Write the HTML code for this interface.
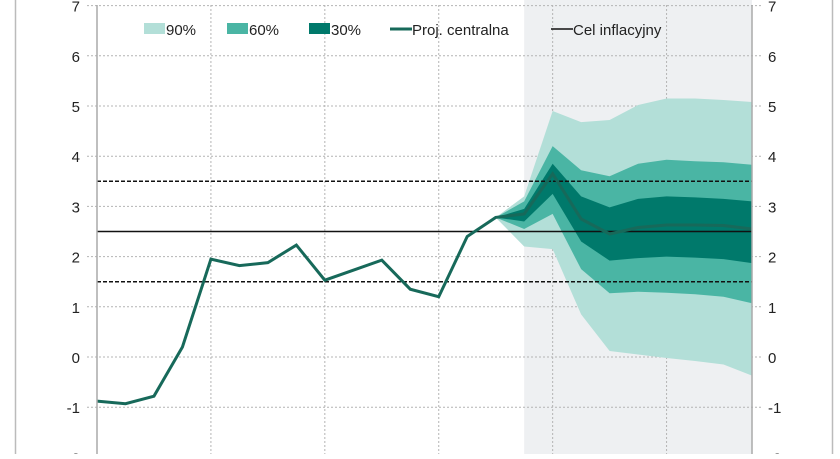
<!DOCTYPE html>
<html><head><meta charset="utf-8"><style>
body{margin:0;background:#fff;width:840px;height:454px;overflow:hidden}
svg{font-family:"Liberation Sans",sans-serif}
</style></head><body>
<svg id="c" width="840" height="454">
<line x1="15.5" y1="0" x2="15.5" y2="454" stroke="#bbb" stroke-width="1.5"/>
<line x1="832.5" y1="0" x2="832.5" y2="454" stroke="#bbb" stroke-width="1.5"/>
<g id="g"></g>
</svg>
<script>
const yTicks=[-2,-1,0,1,2,3,4,5,6,7];
const central=[-0.88,-0.93,-0.78,0.2,1.95,1.82,1.88,2.23,1.53,1.73,1.93,1.35,1.2,2.4,2.78,2.85,3.65,2.75,2.45,2.58,2.63,2.63,2.62,2.55];
const fanStart=14;
const lo90=[2.78,2.2,2.15,0.85,0.12,0.05,-0.02,-0.08,-0.15,-0.37];
const hi90=[2.78,3.2,4.9,4.68,4.72,5.02,5.15,5.15,5.12,5.08];
const lo60=[2.78,2.55,2.85,1.75,1.27,1.3,1.28,1.25,1.2,1.07];
const hi60=[2.78,3.1,4.2,3.72,3.6,3.85,3.93,3.9,3.88,3.83];
const lo30=[2.78,2.7,3.25,2.3,1.92,1.97,2.0,1.98,1.95,1.87];
const hi30=[2.78,2.95,3.85,3.2,2.98,3.15,3.2,3.18,3.15,3.1];
const target=2.5, band=[1.5,3.5];
const X0=97,X1=752,N=central.length;
const x=i=>X0+(X1-X0)*i/(N-1);
const y=v=>357-50.2*v;
const NS='http://www.w3.org/2000/svg';
const g=document.getElementById('g');
function mk(t,a,p){const e=document.createElementNS(NS,t);for(const k in a)e.setAttribute(k,a[k]);(p||g).appendChild(e);return e;}
let e;
e=mk('rect',{x:x(15),y:0,width:X1-x(15),height:454,fill:'#eef0f2'});


yTicks.forEach(v=>{
 e=mk('line',{x1:X0-10,x2:X1+10,y1:y(v),y2:y(v),stroke:'#b4b4b4','stroke-dasharray':'2,2'});
 
 
 e=mk('text',{x:80,y:y(v)+6,'text-anchor':'end','font-size':'15',fill:'#222'});e.textContent=v;
 
 
 e=mk('text',{x:768,y:y(v)+6,'font-size':'15',fill:'#222'});e.textContent=v;
 
 
});
for(let i=4;i<N;i+=4){
 e=mk('line',{x1:x(i),x2:x(i),y1:5,y2:454,stroke:'#b4b4b4','stroke-dasharray':'2,2'});
 
 
}
function area(lo,hi,fill,name){
 let pts=hi.map((v,j)=>x(fanStart+j)+','+y(v));
 pts=pts.concat(lo.map((v,j)=>x(fanStart+j)+','+y(v)).reverse());
 const p=mk('polygon',{points:pts.join(' '),fill:fill});
 
 
}
area(lo90,hi90,'#b3dfd8','fan-90');
area(lo60,hi60,'#4ab5a4','fan-60');
area(lo30,hi30,'#00796b','fan-30');
e=mk('line',{x1:X0,x2:X1,y1:y(target),y2:y(target),stroke:'#111','stroke-width':1.5});


band.forEach(v=>{
 e=mk('line',{x1:X0,x2:X1,y1:y(v),y2:y(v),stroke:'#111','stroke-width':1.5,'stroke-dasharray':'4,2'});
 
 
});
e=mk('polyline',{points:central.map((v,i)=>x(i)+','+y(v)).join(' '),fill:'none',stroke:'#17695a','stroke-width':3,'stroke-linejoin':'miter'});


e=mk('line',{x1:X0,x2:X0,y1:5,y2:454,stroke:'#aaa','stroke-width':1.5});


e=mk('line',{x1:X1,x2:X1,y1:5,y2:454,stroke:'#aaa','stroke-width':1.5});


const leg=[['90%','#b3dfd8',144,'box'],['60%','#4ab5a4',227,'box'],['30%','#00796b',309,'box'],['Proj. centralna','#17695a',390,'line'],['Cel inflacyjny','#111',551,'thin']];
leg.forEach(l=>{
 if(l[3]=='box'){e=mk('rect',{x:l[2],y:23,width:21,height:11,fill:l[1]});}
 else{e=mk('line',{x1:l[2],x2:l[2]+22,y1:29,y2:29,stroke:l[1],'stroke-width':l[3]=='line'?3:1.5});}
 
 
 e=mk('text',{x:l[2]+22,y:35,'font-size':'15',fill:'#222'});e.textContent=l[0];
 
 
});
</script>
</body></html>
